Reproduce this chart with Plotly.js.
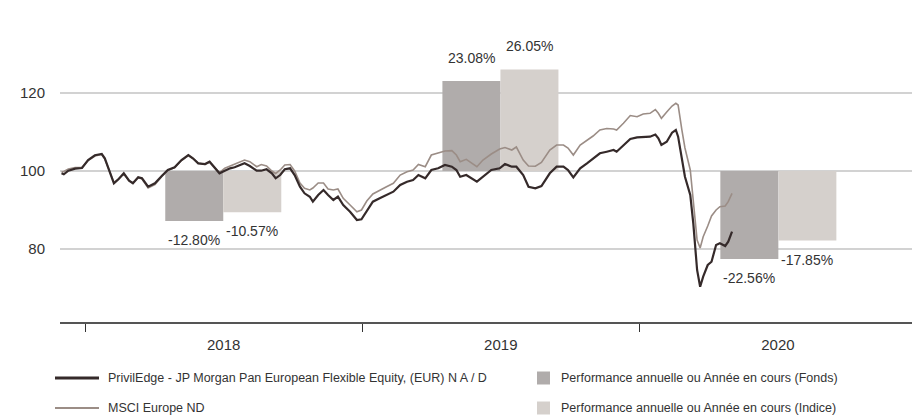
<!DOCTYPE html>
<html>
<head>
<meta charset="utf-8">
<script src="https://cdn.plot.ly/plotly-3.0.1.min.js"></script>
<style>
  html, body { margin: 0; padding: 0; background: #ffffff; }
  #chart { width: 912px; height: 419px; }
</style>
</head>
<body>
<div id="chart"></div>
<script>
// ---- Data ----
var dates = [
'2017-12-01','2017-12-04','2017-12-10','2017-12-19','2017-12-28',
'2018-01-05','2018-01-14','2018-01-23','2018-01-27','2018-02-03',
'2018-02-08','2018-02-14','2018-02-21','2018-02-28','2018-03-05',
'2018-03-12','2018-03-17','2018-03-25','2018-04-03','2018-04-12',
'2018-04-20','2018-04-29','2018-05-08','2018-05-17','2018-05-23',
'2018-05-30','2018-06-08','2018-06-14','2018-06-21','2018-06-27',
'2018-07-04','2018-07-11','2018-07-17','2018-07-24','2018-07-30',
'2018-08-06','2018-08-15','2018-08-21','2018-08-28','2018-09-04',
'2018-09-09','2018-09-15','2018-09-21','2018-09-28','2018-10-04',
'2018-10-11','2018-10-17','2018-10-24','2018-10-28','2018-11-04',
'2018-11-11','2018-11-17','2018-11-24','2018-11-30','2018-12-07',
'2018-12-16','2018-12-25','2018-12-31',
'2019-01-07','2019-01-15','2019-01-24','2019-02-02','2019-02-11',
'2019-02-20','2019-03-01','2019-03-09','2019-03-16','2019-03-25',
'2019-04-02','2019-04-11','2019-04-20','2019-04-29','2019-05-05',
'2019-05-10','2019-05-18','2019-06-01','2019-06-09','2019-06-20',
'2019-07-01','2019-07-08','2019-07-17','2019-07-23','2019-08-01',
'2019-08-08','2019-08-17','2019-08-25','2019-09-05','2019-09-14',
'2019-09-23','2019-09-29','2019-10-06','2019-10-15','2019-10-24',
'2019-11-01','2019-11-10','2019-11-19','2019-11-28','2019-12-02',
'2019-12-11','2019-12-20','2019-12-29',
'2020-01-06','2020-01-15','2020-01-22','2020-01-26','2020-01-30',
'2020-02-06','2020-02-13','2020-02-18','2020-02-21','2020-02-26',
'2020-03-01','2020-03-08','2020-03-12','2020-03-17','2020-03-21',
'2020-03-25','2020-03-31','2020-04-05','2020-04-11','2020-04-16',
'2020-04-23','2020-04-27','2020-05-02'
];

var fundValues = [
99.4, 99.15, 100.08, 100.6, 100.77,
102.82, 104.03, 104.36, 103.26, 99.41,
96.85, 97.87, 99.41, 97.51, 96.85,
98.38, 98.13, 95.97, 96.85, 98.72,
100.26, 100.95, 102.82, 104.1, 103.26,
101.97, 101.79, 102.38, 100.69, 99.41,
100.08, 100.69, 100.95, 101.54, 101.97,
101.28, 100.08, 100.08, 100.44, 99.41,
98.13, 98.97, 100.44, 100.69, 98.97,
95.97, 94.28, 93.41, 92.13, 93.85,
95.13, 93.85, 92.56, 93.41, 91.28,
89.56, 87.44, 87.62,
89.6, 92.13, 93.0, 93.85, 94.69,
96.41, 97.26, 97.69, 98.97, 98.13,
100.26, 100.69, 101.54, 101.1, 100.26,
98.54, 98.97, 97.26, 98.54, 100.26,
100.69, 101.79, 101.1, 101.1, 98.97,
95.97, 95.56, 96.15, 99.41, 101.1,
101.1, 100.26, 98.38, 100.69, 101.97,
103.26, 104.54, 104.95, 105.38, 104.95,
106.67, 108.2, 108.64,
108.64, 108.8, 109.36, 108.38, 106.67,
107.51, 109.82, 110.51, 108.8, 102.82,
98.54, 93.85, 86.59, 74.62, 70.33,
72.9, 75.9, 76.74, 81.03, 81.46,
80.77, 81.87, 84.44
];

var indexValues = [
99.74, 99.87, 100.51, 100.9, 100.95,
102.69, 103.85, 104.23, 103.08, 99.36,
97.05, 97.95, 99.23, 97.44, 96.92,
98.33, 97.95, 95.64, 96.54, 98.59,
100.13, 100.9, 102.69, 103.97, 103.21,
102.05, 101.67, 102.31, 100.77, 99.56,
100.69, 101.28, 101.79, 102.44, 102.82,
102.38, 101.1, 101.67, 101.28, 100.0,
99.36, 100.26, 101.54, 101.67, 100.0,
96.92, 95.56, 95.13, 95.64, 96.92,
96.92, 95.38, 95.13, 95.38, 93.0,
91.28, 89.56, 90.0,
92.31, 94.1, 95.13, 95.97, 96.85,
98.97, 99.82, 100.26, 101.67, 101.1,
104.1, 104.62, 105.13, 105.21, 104.1,
102.38, 103.0, 101.1, 102.82, 104.36,
105.64, 106.03, 105.38, 106.15, 102.82,
101.28, 101.21, 102.18, 105.38, 106.67,
106.67, 105.9, 104.1, 106.67, 107.82,
108.97, 110.51, 110.9, 110.77, 110.51,
112.23, 114.23, 113.92,
114.62, 114.8, 115.77, 114.8, 113.51,
115.13, 116.67, 117.36, 116.92, 110.51,
105.9, 100.26, 91.72, 82.31, 80.26,
83.15, 85.9, 88.46, 90.0, 90.85,
91.03, 92.13, 94.28
];

var barYears = ['2018-07-02', '2019-07-02', '2020-07-02'];
var fundPerf = [-12.80, 23.08, -22.56];
var indexPerf = [-10.57, 26.05, -17.85];
var perfBase = 100;

var fundName = 'PrivilEdge - JP Morgan Pan European Flexible Equity, (EUR) N A / D';
var indexName = 'MSCI Europe ND';
var fundBarName = 'Performance annuelle ou Année en cours (Fonds)';
var indexBarName = 'Performance annuelle ou Année en cours (Indice)';

var yTicks = [80, 100, 120];

// ---- Styles ----
var FONT = '"Liberation Sans Narrow", "Arial Narrow", "Liberation Sans", Arial, sans-serif';
var TXT = '#333333';
var cFund = '#352a2a';
var cIndex = '#9b8d86';
var cFundBar = '#b0acab';
var cIndexBar = '#d5d0cc';
var DAY = 86400000;
var barW = 76.4 * DAY;

function fmt(v) { return v.toFixed(2) + '%'; }

var traces = [
  { type: 'bar', x: barYears, y: fundPerf, base: perfBase, width: barW, offset: -barW,
    marker: { color: cFundBar, line: { width: 0 } }, name: fundBarName, hoverinfo: 'skip', showlegend: false },
  { type: 'bar', x: barYears, y: indexPerf, base: perfBase, width: barW, offset: 0,
    marker: { color: cIndexBar, line: { width: 0 } }, name: indexBarName, hoverinfo: 'skip', showlegend: false },
  { type: 'scatter', mode: 'lines', x: dates, y: indexValues, name: indexName,
    line: { color: cIndex, width: 1.6 }, showlegend: false },
  { type: 'scatter', mode: 'lines', x: dates, y: fundValues, name: fundName,
    line: { color: cFund, width: 2.2 }, showlegend: false }
];

var annotations = [];
for (var i = 0; i < barYears.length; i++) {
  var mid = new Date(barYears[i] + 'T00:00:00Z').getTime();
  [[fundPerf[i], mid - barW / 2], [indexPerf[i], mid + barW / 2]].forEach(function (p) {
    var v = p[0];
    annotations.push({
      x: p[1], y: perfBase + v, xref: 'x', yref: 'y', text: fmt(v), showarrow: false,
      xanchor: 'center', yanchor: 'middle', yshift: v >= 0 ? 23 : -19,
      font: { family: FONT, size: 14, color: TXT }
    });
  });
}

// Legend (drawn below the plot)
var L = 60, W = 852, B = 322, H = 302;
function px(x) { return (x - L) / W; }
function py(y) { return (B - y) / H; }
var legendRows = [378, 408];
var shapes = [
  { type: 'line', xref: 'paper', yref: 'paper', x0: px(55), x1: px(99), y0: py(legendRows[0]), y1: py(legendRows[0]),
    line: { color: cFund, width: 3 } },
  { type: 'line', xref: 'paper', yref: 'paper', x0: px(55), x1: px(99), y0: py(legendRows[1]), y1: py(legendRows[1]),
    line: { color: cIndex, width: 2 } },
  { type: 'rect', xref: 'paper', yref: 'paper', x0: px(537), x1: px(550), y0: py(legendRows[0] - 6.5), y1: py(legendRows[0] + 6.5),
    fillcolor: cFundBar, line: { width: 0 } },
  { type: 'rect', xref: 'paper', yref: 'paper', x0: px(537), x1: px(550), y0: py(legendRows[1] - 6.5), y1: py(legendRows[1] + 6.5),
    fillcolor: cIndexBar, line: { width: 0 } }
];
[[fundName, 106, legendRows[0]], [indexName, 106, legendRows[1]],
 [fundBarName, 559, legendRows[0]], [indexBarName, 559, legendRows[1]]].forEach(function (t) {
  annotations.push({ xref: 'paper', yref: 'paper', x: px(t[1]), y: py(t[2]), text: t[0], showarrow: false,
    xanchor: 'left', yanchor: 'middle', font: { family: FONT, size: 12.5, color: TXT } });
});

var layout = {
  width: 912, height: 419,
  margin: { l: 60, r: 0, t: 20, b: 97 },
  paper_bgcolor: '#ffffff', plot_bgcolor: '#ffffff',
  showlegend: false,
  barmode: 'overlay',
  font: { family: FONT, size: 14, color: TXT },
  xaxis: {
    type: 'date',
    range: ['2017-11-29', '2020-12-25'],
    showgrid: false, zeroline: false,
    showline: true, linecolor: '#555555', linewidth: 1.5,
    ticks: 'outside', ticklen: 8, tickcolor: '#333333', tickwidth: 1,
    tick0: '2018-01-01', dtick: 'M12', tickformat: '%Y', ticklabelmode: 'period',
    tickfont: { family: FONT, size: 15, color: TXT }
  },
  yaxis: {
    range: [61.28, 138.72],
    tickvals: yTicks,
    showgrid: true, gridcolor: '#d2d2d2', gridwidth: 1.5,
    zeroline: false, showline: false, ticks: '',
    ticklabelstandoff: 14,
    tickfont: { family: FONT, size: 15, color: TXT }
  },
  annotations: annotations,
  shapes: shapes
};

Plotly.newPlot('chart', traces, layout, { displayModeBar: false, staticPlot: true });
</script>
</body>
</html>
